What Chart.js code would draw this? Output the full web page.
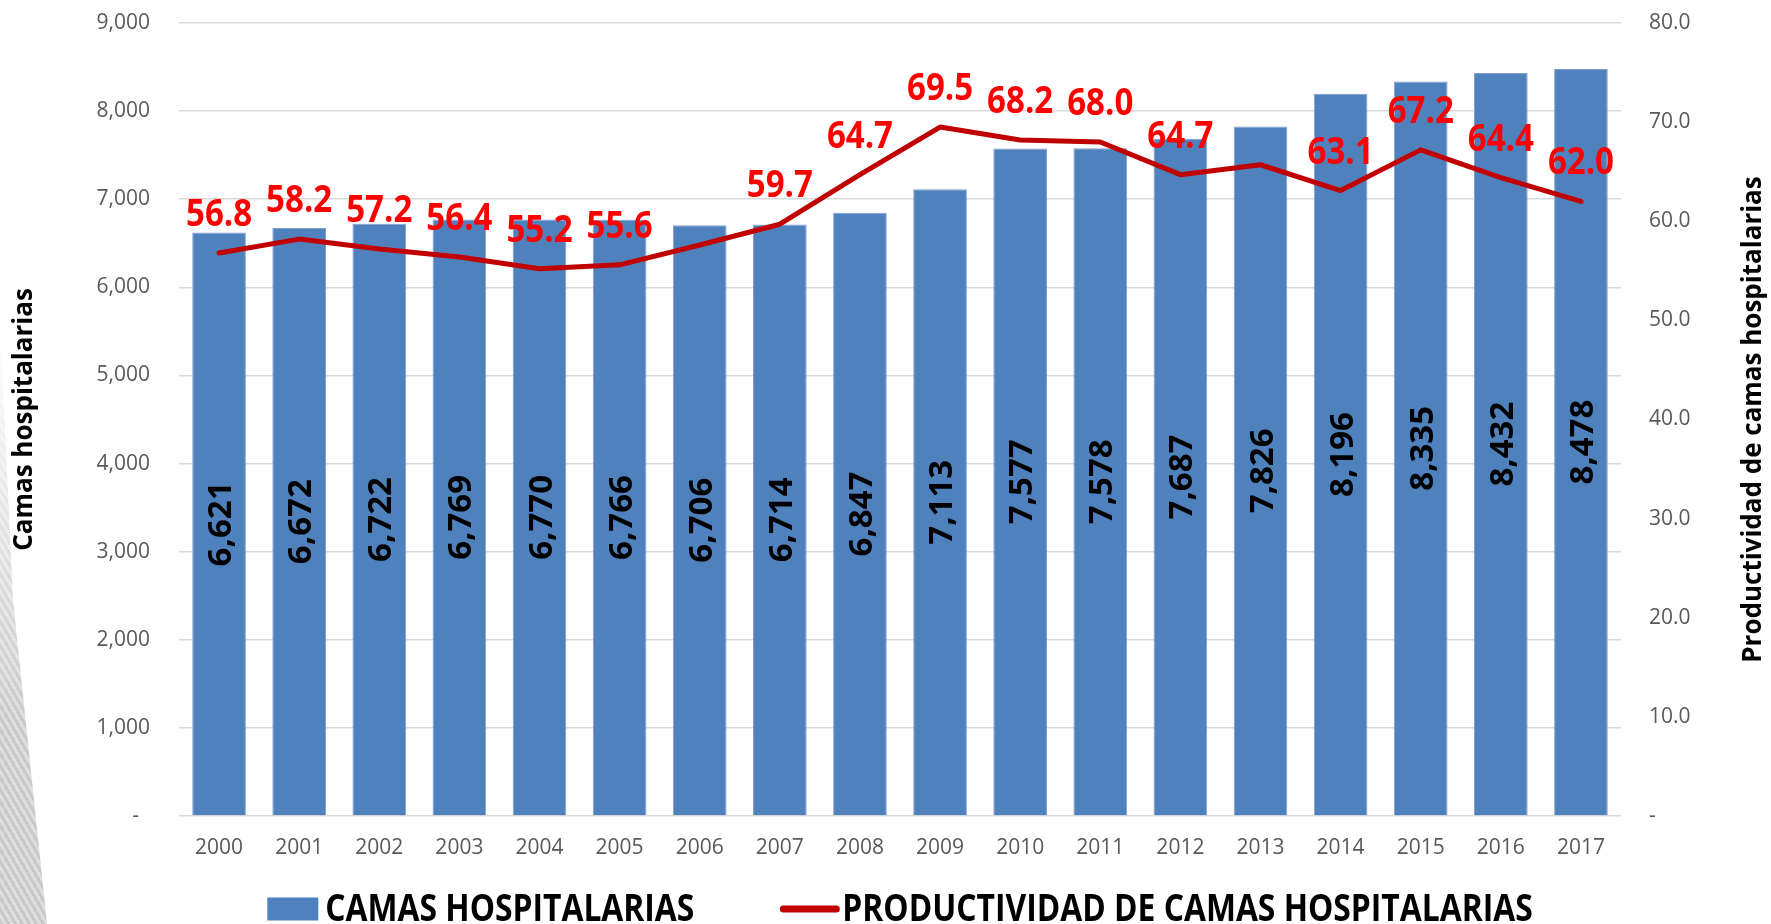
<!DOCTYPE html>
<html lang="es">
<head>
<meta charset="UTF-8">
<title>Camas hospitalarias</title>
<script src="https://cdn.jsdelivr.net/npm/chart.js"></script>
<style>
  body { margin: 0; background: #fff; }
  #wrap { position: relative; width: 1771px; height: 924px; }
  #franja {
    position: absolute; left: 0; top: 0; width: 60px; height: 924px;
    background: repeating-linear-gradient(60deg, #c9c9c9 0 3px, #dedede 3px 6px);
    clip-path: polygon(0 330px, 6px 450px, 13px 600px, 47px 924px, 0 924px);
    -webkit-mask-image: linear-gradient(to bottom, transparent 320px, #000 720px);
    mask-image: linear-gradient(to bottom, transparent 320px, #000 720px);
  }
  canvas { position: relative; }
</style>
</head>
<body>
<div id="wrap">
  <div id="franja"></div>
  <canvas id="grafico"></canvas>
</div>

<script>
// datos
const anios = ['2000','2001','2002','2003','2004','2005','2006','2007','2008',
               '2009','2010','2011','2012','2013','2014','2015','2016','2017'];
const camas = [6621, 6672, 6722, 6769, 6770, 6766, 6706, 6714, 6847,
               7113, 7577, 7578, 7687, 7826, 8196, 8335, 8432, 8478];
const productividad = [56.8, 58.2, 57.2, 56.4, 55.2, 55.6, 57.6, 59.7, 64.7,
                       69.5, 68.2, 68.0, 64.7, 65.7, 63.1, 67.2, 64.4, 62.0];
// años sin etiqueta en el original
const sinEtiqueta = ['2006', '2013'];

const nombreBarras = 'CAMAS HOSPITALARIAS';
const nombreLinea = 'PRODUCTIVIDAD DE CAMAS HOSPITALARIAS';
const tituloIzq = 'Camas hospitalarias';
const tituloDer = 'Productividad de camas hospitalarias';

const azul = '#4f81bd';
const granate = '#c00000';

Chart.defaults.font.family = '"Open Sans", sans-serif';
Chart.defaults.color = '#595959';

// etiquetas, título derecho y leyenda dibujados a mano
const extras = {
  id: 'extras',
  afterDatasetsDraw(chart) {
    const ctx = chart.ctx;
    const barras = chart.getDatasetMeta(0).data;
    const puntos = chart.getDatasetMeta(1).data;
    ctx.save();
    ctx.textAlign = 'center';
    ctx.textBaseline = 'alphabetic';

    ctx.font = 'bold 33px "Open Sans"';
    ctx.fillStyle = '#000';
    barras.forEach((b, i) => {
      ctx.save();
      ctx.translate(b.x, (b.y + b.base) / 2);
      ctx.rotate(-Math.PI / 2);
      ctx.fillText(camas[i].toLocaleString('en-US'), 0, 12);
      ctx.restore();
    });

    ctx.font = 'bold 38px "Open Sans"';
    ctx.fillStyle = '#ff0000';
    puntos.forEach((p, i) => {
      if (sinEtiqueta.includes(anios[i])) return;
      ctx.save();
      ctx.translate(p.x, p.y - 27);
      ctx.scale(0.87, 1);
      ctx.fillText(productividad[i].toFixed(1), 0, 0);
      ctx.restore();
    });
    ctx.restore();
  },
  afterDraw(chart) {
    const ctx = chart.ctx;
    const area = chart.chartArea;
    ctx.save();

    // título del eje derecho, leído de abajo hacia arriba
    ctx.font = 'bold 26px "Open Sans"';
    ctx.fillStyle = '#000';
    ctx.textAlign = 'center';
    ctx.textBaseline = 'middle';
    ctx.translate(1754, (area.top + area.bottom) / 2);
    ctx.rotate(-Math.PI / 2);
    ctx.fillText(tituloDer, 0, 0);
    ctx.restore();

    // leyenda
    ctx.save();
    const sx = 0.86;
    ctx.font = 'bold 37px "Open Sans"';
    ctx.textAlign = 'left';
    ctx.textBaseline = 'alphabetic';
    const w1 = ctx.measureText(nombreBarras).width * sx;
    const w2 = ctx.measureText(nombreLinea).width * sx;
    const total = 51 + 7 + w1 + 86 + 59 + 3 + w2;
    let x = (area.left + area.right) / 2 - total / 2;
    const yc = 909;

    ctx.fillStyle = azul;
    ctx.fillRect(x, yc - 11.5, 51, 23);
    x += 58;
    ctx.fillStyle = '#000';
    ctx.save(); ctx.translate(x, 921); ctx.scale(sx, 1);
    ctx.fillText(nombreBarras, 0, 0);
    ctx.restore();
    x += w1 + 86;

    ctx.strokeStyle = granate;
    ctx.lineWidth = 7;
    ctx.lineCap = 'round';
    ctx.beginPath();
    ctx.moveTo(x + 3, yc); ctx.lineTo(x + 56, yc);
    ctx.stroke();
    x += 62;
    ctx.save(); ctx.translate(x, 921); ctx.scale(sx, 1);
    ctx.fillText(nombreLinea, 0, 0);
    ctx.restore();

    ctx.restore();
  }
};

const ctx = document.getElementById('grafico').getContext('2d');
new Chart(ctx, {
  data: {
    labels: anios,
    datasets: [{
      type: 'bar',
      label: nombreBarras,
      data: camas,
      backgroundColor: azul,
      borderColor: '#7f9fcf',
      borderWidth: 1,
      barPercentage: 0.67,
      categoryPercentage: 1.0,
      yAxisID: 'y',
      order: 1
    }, {
      type: 'line',
      label: nombreLinea,
      data: productividad,
      borderColor: granate,
      borderWidth: 5,
      pointRadius: 0,
      tension: 0,
      borderJoinStyle: 'round',
      borderCapStyle: 'round',
      fill: false,
      yAxisID: 'y1',
      order: 0
    }]
  },
  options: {
    responsive: true,
    maintainAspectRatio: false,
    animation: false,
    layout: { padding: { top: 23, bottom: 48, left: 0, right: 0 } },
    plugins: {
      legend: { display: false },
      tooltip: { enabled: false }
    },
    scales: {
      x: {
        grid: { display: false },
        border: { display: false },
        ticks: { font: { size: 21 }, padding: 11, maxRotation: 0 },
        afterFit: s => { s.height = 60; }
      },
      y: {
        position: 'left',
        min: 0, max: 9000,
        grid: { color: '#d9d9d9', lineWidth: 1.5, drawTicks: false },
        border: { display: false },
        ticks: {
          stepSize: 1000,
          padding: 29,
          font: { size: 21 },
          callback: v => v === 0 ? '-  ' : v.toLocaleString('en-US')
        },
        title: {
          display: true,
          text: tituloIzq,
          color: '#000',
          font: { size: 26, weight: 'bold' },
          padding: { top: 9, bottom: 0 }
        },
        afterFit: s => { s.width = 179; s.paddingTop = 0; s.paddingBottom = 0; }
      },
      y1: {
        position: 'right',
        min: 0, max: 80,
        grid: { drawOnChartArea: false, drawTicks: false },
        border: { display: false },
        ticks: {
          stepSize: 10,
          padding: 28,
          font: { size: 21 },
          callback: v => v === 0 ? '-' : v.toFixed(1)
        },
        afterFit: s => { s.width = 150; s.paddingTop = 0; s.paddingBottom = 0; }
      }
    }
  },
  plugins: [extras]
});
</script>
</body>
</html>
